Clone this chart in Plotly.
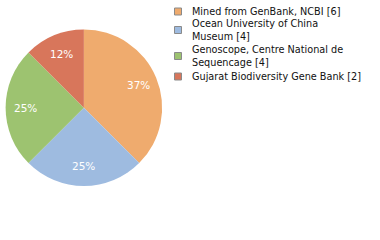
import math
import plotly.graph_objects as go

W, H = 380, 240
labels = ["Mined from GenBank, NCBI [6]",
          "Ocean University of China<br>Museum [4]",
          "Genoscope, Centre National de<br>Sequencage [4]",
          "Gujarat Biodiversity Gene Bank [2]"]
values = [6, 4, 4, 2]
colors = ["#EFAB6E", "#9EBBE0", "#9DC370", "#D8765B"]

total = sum(values)
pct_text = [f"{math.floor(v / total * 100)}%" for v in values]

# pie domain (pixels)
px0, px1, py0, py1 = 5, 162.7, 29.5, 186
dom_x = [px0 / W, px1 / W]
dom_y = [1 - py1 / H, 1 - py0 / H]

fig = go.Figure(go.Pie(
    labels=labels, values=values,
    textinfo="none", sort=False, direction="clockwise", rotation=0,
    marker=dict(colors=colors, line=dict(width=0)),
    domain=dict(x=dom_x, y=dom_y),
    hoverinfo="none", showlegend=False,
))

# percentage labels placed at slice mid-angles
cx, cy = (px0 + px1) / 2, (py0 + py1) / 2
r = min(px1 - px0, py1 - py0) / 2
cum = 0
for v, t in zip(values, pct_text):
    mid = (cum + v / 2) / total * 2 * math.pi
    cum += v
    x = cx + 0.75 * r * math.sin(mid)
    y = cy - 0.75 * r * math.cos(mid)
    fig.add_annotation(x=x / W, y=1 - y / H, xref="paper", yref="paper",
                       text=t, showarrow=False, xanchor="center", yanchor="middle",
                       font=dict(color="white", size=10.5, family="DejaVu Sans"))

# manual legend
legend_y = [11.5, 30, 56, 76.5]
for lab, c, ly in zip(labels, colors, legend_y):
    fig.add_shape(type="rect", xref="paper", yref="paper",
                  x0=174.5 / W, x1=181.5 / W, y0=1 - (ly + 3.5) / H, y1=1 - (ly - 3.5) / H,
                  fillcolor=c, line=dict(color="#8a8a8a", width=1))
    fig.add_annotation(x=191 / W, y=1 - ly / H, xref="paper", yref="paper",
                       text=lab, showarrow=False, xanchor="left", yanchor="middle",
                       align="left", xshift=-1,
                       font=dict(color="#111111", size=9.7, family="DejaVu Sans"))

fig.update_layout(
    width=W, height=H, margin=dict(l=0, r=0, t=0, b=0),
    paper_bgcolor="white", plot_bgcolor="white",
    showlegend=False,
)
fig.write_html("out.html")
